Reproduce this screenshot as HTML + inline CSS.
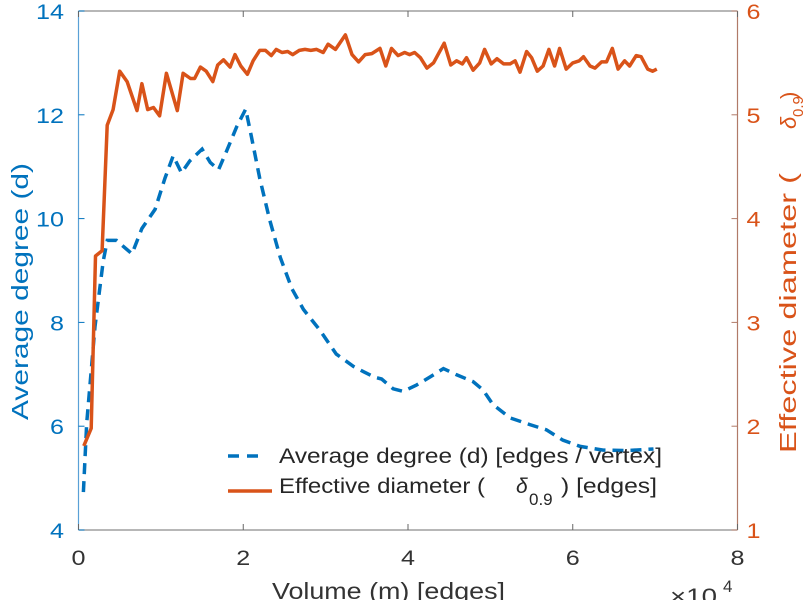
<!DOCTYPE html>
<html><head><meta charset="utf-8"><style>
body{margin:0;background:#fff;}
svg text{font-family:"Liberation Sans",sans-serif;}
</style></head><body>
<svg width="812" height="600" viewBox="0 0 812 600">
<g id="plot"></g>
</svg>
<script>
const xTicks=[0,2,4,6,8];
const yLeftTicks=[4,6,8,10,12,14];
const yRightTicks=[1,2,3,4,5,6];
const degX=[0.06,0.10,0.20,0.30,0.35,0.46,0.65,0.77,0.93,1.05,1.15,1.25,1.35,1.50,1.60,1.70,1.80,1.92,2.03,2.10,2.20,2.32,2.45,2.59,2.73,2.93,3.13,3.34,3.46,3.60,3.68,3.82,3.94,4.10,4.27,4.43,4.59,4.79,4.91,5.03,5.24,5.48,5.68,5.88,6.09,6.37,6.65,6.98];
const degY=[4.73,6.06,7.92,9.18,9.58,9.58,9.32,9.81,10.18,10.78,11.21,10.88,11.11,11.34,11.08,10.94,11.31,11.77,12.11,11.57,10.78,9.98,9.25,8.65,8.25,7.85,7.39,7.15,7.05,6.94,6.91,6.72,6.67,6.79,6.95,7.11,6.99,6.86,6.70,6.42,6.16,6.03,5.93,5.73,5.61,5.54,5.53,5.56];
const diaX=[0.064,0.154,0.206,0.287,0.348,0.42,0.50,0.59,0.71,0.77,0.84,0.91,0.985,1.067,1.20,1.27,1.36,1.41,1.48,1.55,1.63,1.69,1.76,1.84,1.90,1.97,2.05,2.12,2.20,2.27,2.34,2.40,2.47,2.54,2.60,2.68,2.75,2.82,2.89,2.97,3.03,3.12,3.24,3.32,3.40,3.48,3.56,3.66,3.73,3.80,3.88,3.96,4.02,4.08,4.15,4.23,4.31,4.44,4.52,4.59,4.66,4.71,4.79,4.87,4.93,5.01,5.08,5.16,5.24,5.30,5.36,5.44,5.50,5.57,5.64,5.71,5.78,5.84,5.92,6.00,6.08,6.13,6.21,6.27,6.35,6.41,6.48,6.55,6.63,6.69,6.77,6.83,6.91,6.97,7.02];
const diaY=[1.81,1.98,3.64,3.69,4.90,5.05,5.42,5.32,5.04,5.30,5.05,5.07,4.99,5.40,5.04,5.40,5.35,5.35,5.46,5.42,5.32,5.48,5.53,5.46,5.58,5.47,5.39,5.52,5.62,5.62,5.57,5.63,5.60,5.61,5.58,5.62,5.63,5.62,5.63,5.60,5.68,5.63,5.77,5.58,5.51,5.58,5.59,5.64,5.47,5.64,5.57,5.60,5.58,5.60,5.55,5.45,5.50,5.69,5.48,5.52,5.49,5.55,5.43,5.50,5.63,5.49,5.54,5.49,5.49,5.52,5.41,5.61,5.55,5.42,5.47,5.63,5.47,5.64,5.44,5.50,5.52,5.56,5.47,5.45,5.51,5.51,5.64,5.44,5.52,5.47,5.57,5.56,5.44,5.42,5.44];

const L=78.5,R=737.5,T=11,B=530;
const sx=v=>L+(v-0)/(8-0)*(R-L);
const syL=v=>B-(v-4)/(14-4)*(B-T);
const syR=v=>B-(v-1)/(6-1)*(B-T);
const NS='http://www.w3.org/2000/svg';
const g=document.getElementById('plot');
function mk(tag,attrs,parent){const e=document.createElementNS(NS,tag);for(const k in attrs)e.setAttribute(k,attrs[k]);(parent||g).appendChild(e);return e;}
const BLUE='#0072BD',ORG='#D95319';
const DIG=14;

let e;
e=mk('line',{x1:L,y1:T,x2:R,y2:T,stroke:'#8c8c8c','stroke-width':1.2});


e=mk('line',{x1:L,y1:B,x2:R,y2:B,stroke:'#8c8c8c','stroke-width':1.2});


e=mk('line',{x1:L,y1:T,x2:L,y2:B,stroke:'#5aa0d6','stroke-width':1.2});


e=mk('line',{x1:R,y1:T,x2:R,y2:B,stroke:'#b07a68','stroke-width':1.2});



xTicks.forEach(v=>{
  const x=sx(v);
  let t=mk('line',{x1:x,y1:B,x2:x,y2:B-6,stroke:'#666'});
  
  
  t=mk('line',{x1:x,y1:T,x2:x,y2:T+6,stroke:'#666'});
  
  
  const s=String(v);
  const lb=mk('text',{x:x-s.length*DIG/2,y:565,'font-size':21,fill:'#333',textLength:s.length*DIG,lengthAdjust:'spacingAndGlyphs'});
  lb.textContent=s;
  
  
});
yLeftTicks.forEach(v=>{
  const y=syL(v);
  const t=mk('line',{x1:L,y1:y,x2:L+6,y2:y,stroke:BLUE});
  
  
  const s=String(v);
  const lb=mk('text',{x:64-s.length*DIG,y:y+8,'font-size':21,fill:BLUE,textLength:s.length*DIG,lengthAdjust:'spacingAndGlyphs'});
  lb.textContent=s;
  
  
});
yRightTicks.forEach(v=>{
  const y=syR(v);
  const t=mk('line',{x1:R,y1:y,x2:R-6,y2:y,stroke:'#b07a68'});
  
  
  const s=String(v);
  const lb=mk('text',{x:R+9,y:y+8,'font-size':21,fill:ORG,textLength:s.length*DIG,lengthAdjust:'spacingAndGlyphs'});
  lb.textContent=s;
  
  
});

let dp=degX.map((v,i)=>sx(v).toFixed(1)+','+syL(degY[i]).toFixed(1)).join(' ');
e=mk('polyline',{points:dp,fill:'none',stroke:BLUE,'stroke-width':3.5,'stroke-dasharray':'11,7'});


let op=diaX.map((v,i)=>sx(v).toFixed(1)+','+syR(diaY[i]).toFixed(1)).join(' ');
e=mk('polyline',{points:op,fill:'none',stroke:ORG,'stroke-width':3.5,'stroke-linejoin':'round'});


</script>
<svg width="812" height="600" style="position:absolute;left:0;top:0">
<g>
<line x1="228" y1="456" x2="266" y2="456" stroke="#0072BD" stroke-width="3.5" stroke-dasharray="11,8"/>
<text x="279" y="463" font-size="21" fill="#262626" textLength="383" lengthAdjust="spacingAndGlyphs">Average degree (d) [edges / vertex]</text>
<line x1="228" y1="491" x2="272" y2="491" stroke="#D95319" stroke-width="3.5"/>
<text x="279" y="493" font-size="21" fill="#262626" textLength="206" lengthAdjust="spacingAndGlyphs">Effective diameter (</text>
<text x="516" y="493" font-size="21" fill="#262626" font-style="italic">δ</text>
<text x="529" y="505" font-size="17" fill="#262626">0.9</text>
<text x="561" y="493" font-size="21" fill="#262626" textLength="96" lengthAdjust="spacingAndGlyphs">) [edges]</text>
</g>
<text x="272" y="599" font-size="23" fill="#333" textLength="233" lengthAdjust="spacingAndGlyphs">Volume (m) [edges]</text>
<text x="670" y="604" font-size="22" fill="#333" textLength="47" lengthAdjust="spacingAndGlyphs">×10</text>
<text x="723" y="592" font-size="17" fill="#333">4</text>
<text transform="translate(28,420) rotate(-90)" font-size="23" fill="#0072BD" textLength="257" lengthAdjust="spacingAndGlyphs">Average degree (d)</text>
<g transform="translate(796,453) rotate(-90)">
<text x="0" y="0" font-size="23" fill="#D95319" textLength="280" lengthAdjust="spacingAndGlyphs">Effective diameter (</text>
<text x="324" y="0" font-size="22" fill="#D95319" font-style="italic">δ</text>
<text x="336" y="7" font-size="15" fill="#D95319">0.9</text>
<text x="354" y="0" font-size="22" fill="#D95319">)</text>
</g>
</svg>
</body></html>
